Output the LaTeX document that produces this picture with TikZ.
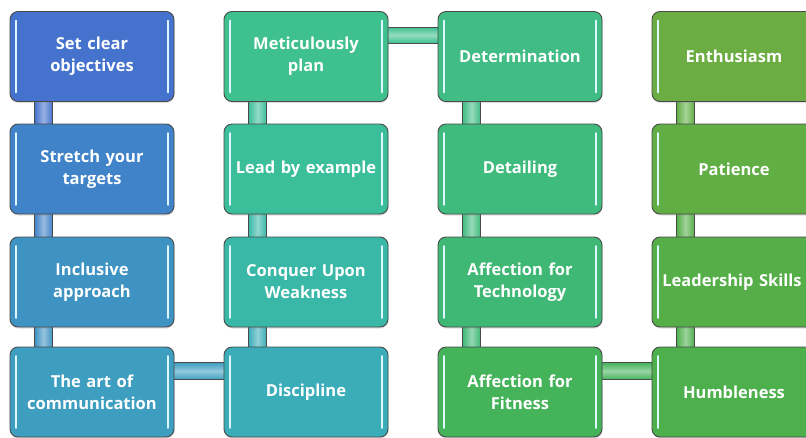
\documentclass[tikz,border=0pt]{standalone}
\usepackage{fontspec}
\setmainfont{Open Sans}
\usetikzlibrary{calc,shadows}
\pgfdeclarelayer{bg}
\pgfsetlayers{bg,main}
\definecolor{c1}{HTML}{4472CC}
\definecolor{c2}{HTML}{4083C8}
\definecolor{c3}{HTML}{3E93C2}
\definecolor{c4}{HTML}{3D9EC0}
\definecolor{c5}{HTML}{3BADB8}
\definecolor{c6}{HTML}{39B8A8}
\definecolor{c7}{HTML}{3BBE9A}
\definecolor{c8}{HTML}{3EC08F}
\definecolor{c9}{HTML}{40BC84}
\definecolor{c10}{HTML}{40BB7E}
\definecolor{c11}{HTML}{3EB874}
\definecolor{c12}{HTML}{45B35A}
\definecolor{c13}{HTML}{4DB04C}
\definecolor{c14}{HTML}{55AE48}
\definecolor{c15}{HTML}{60AE44}
\definecolor{c16}{HTML}{6BAD42}
\definecolor{edge}{HTML}{4A4A4A}
\definecolor{glow}{HTML}{DDF6FF}
\tikzset{
  hl/.style={draw=glow, line width=1.8pt, line cap=round},
  box/.style={draw=edge, line width=0.9pt, rounded corners=8pt, fill=#1,
    minimum width=164pt, minimum height=90pt, text width=156pt, align=center,
    text=white, font=\bfseries\fontsize{16.5}{22}\selectfont, inner sep=0pt,
    drop shadow={shadow xshift=0.5pt, shadow yshift=-1.5pt, opacity=0.25},
    path picture={
      \draw[hl] ([xshift=6pt,yshift=-9pt]path picture bounding box.north west)
             -- ([xshift=6pt,yshift=9pt]path picture bounding box.south west);
      \draw[hl] ([xshift=-6pt,yshift=-9pt]path picture bounding box.north east)
             -- ([xshift=-6pt,yshift=9pt]path picture bounding box.south east);
    }},
  vconn/.style={draw=edge, line width=0.9pt, left color=#1, right color=#1, middle color=#1!55!white},
  hconn/.style={draw=edge, line width=0.9pt, top color=#1, bottom color=#1, middle color=#1!55!white}
}
\begin{document}
\begin{tikzpicture}[x=1pt,y=-1pt]
\useasboundingbox (0,0) rectangle (806,437);
% column 1
\node[box=c1] (n1) at (92,56.5) {Set clear\\objectives};
\node[box=c2] (n2) at (92,169) {Stretch your\\targets};
\node[box=c3] (n3) at (92,282) {Inclusive\\approach};
\node[box=c4] (n4) at (92,392) {The art of\\communication};
% column 2
\node[box=c5] (n5) at (306,392) {Discipline};
\node[box=c6] (n6) at (306,282) {Conquer Upon\\Weakness};
\node[box=c7] (n7) at (306,169) {Lead by example};
\node[box=c8] (n8) at (306,56.5) {Meticulously\\plan};
% column 3
\node[box=c9] (n9) at (520,56.5) {Determination};
\node[box=c10] (n10) at (520,169) {Detailing};
\node[box=c11] (n11) at (520,282) {Affection for\\Technology};
\node[box=c12] (n12) at (520,392) {Affection for\\Fitness};
% column 4
\node[box=c13] (n13) at (734,392) {Humbleness};
\node[box=c14] (n14) at (734,282) {\hspace*{-4pt}Leadership Skills};
\node[box=c15] (n15) at (734,169) {Patience};
\node[box=c16] (n16) at (734,56.5) {Enthusiasm};
% connectors
\begin{pgfonlayer}{bg}
\draw[vconn=c1] ($(n1.south west)+(25,-2)$) rectangle ($(n2.north west)+(43,2)$);
\draw[vconn=c2] ($(n2.south west)+(25,-2)$) rectangle ($(n3.north west)+(43,2)$);
\draw[vconn=c3] ($(n3.south west)+(25,-2)$) rectangle ($(n4.north west)+(43,2)$);
\draw[hconn=c4] ($(n4.north east)+(-2,16)$) rectangle ($(n5.north west)+(2,33)$);
\draw[vconn=c5] ($(n6.south west)+(25,-2)$) rectangle ($(n5.north west)+(43,2)$);
\draw[vconn=c6] ($(n7.south west)+(25,-2)$) rectangle ($(n6.north west)+(43,2)$);
\draw[vconn=c7] ($(n8.south west)+(25,-2)$) rectangle ($(n7.north west)+(43,2)$);
\draw[hconn=c8] ($(n8.north east)+(-2,16)$) rectangle ($(n9.north west)+(2,32)$);
\draw[vconn=c9] ($(n9.south west)+(25,-2)$) rectangle ($(n10.north west)+(43,2)$);
\draw[vconn=c10] ($(n10.south west)+(25,-2)$) rectangle ($(n11.north west)+(43,2)$);
\draw[vconn=c11] ($(n11.south west)+(25,-2)$) rectangle ($(n12.north west)+(43,2)$);
\draw[hconn=c12] ($(n12.north east)+(-2,16)$) rectangle ($(n13.north west)+(2,33)$);
\draw[vconn=c13] ($(n14.south west)+(25,-2)$) rectangle ($(n13.north west)+(43,2)$);
\draw[vconn=c14] ($(n15.south west)+(25,-2)$) rectangle ($(n14.north west)+(43,2)$);
\draw[vconn=c15] ($(n16.south west)+(25,-2)$) rectangle ($(n15.north west)+(43,2)$);
\end{pgfonlayer}
\end{tikzpicture}
\end{document}
